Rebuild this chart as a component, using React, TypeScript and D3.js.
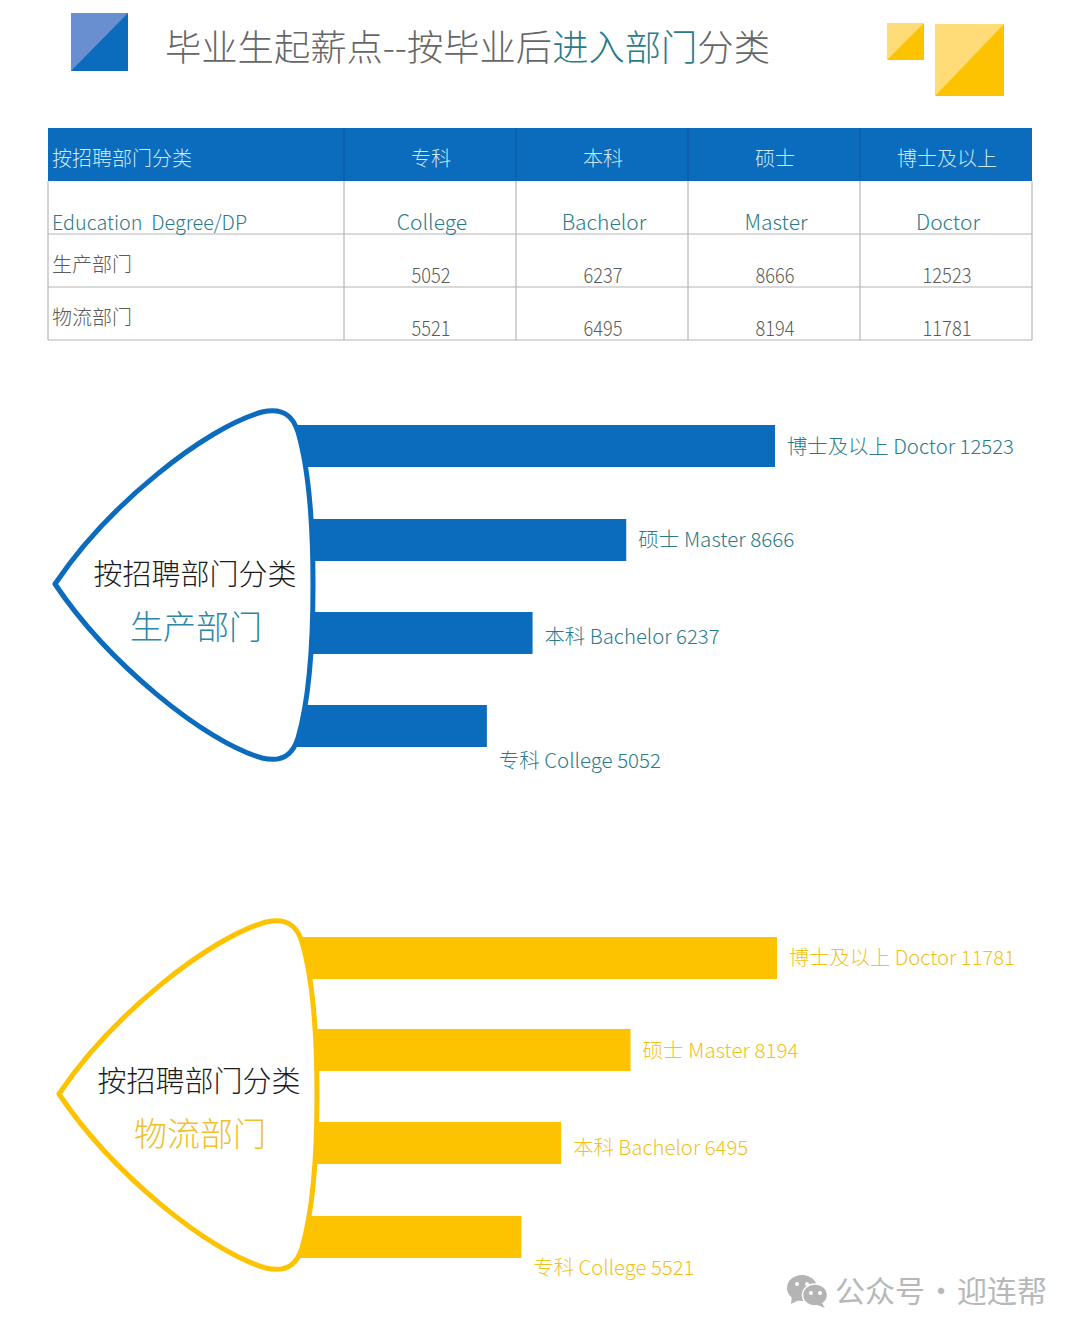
import React from "react";
import * as d3 from "d3";

const degreesCn = ["专科", "本科", "硕士", "博士及以上"];
const degreesEn = ["College", "Bachelor", "Master", "Doctor"];
const production = [5052, 6237, 8666, 12523];
const logistics = [5521, 6495, 8194, 11781];
const rowLabels = ["生产部门", "物流部门"];

const CJK = "'Noto Sans CJK SC','Noto Sans',sans-serif";
const BLUE = "#0b6bbd";
const YELLOW = "#fdc300";
const TEAL = "#2a7a8a";
const GREY = "#5a5a5a";

const colX = [48, 344, 516, 688, 860, 1032];
const rowY = d3.scaleLinear().domain([0, 4]).range([128, 340]);

function T({ x, y, s, fill, size = 20, anchor = "start", w, weight = 300 }: any) {
  return (
    <text x={x} y={y} fill={fill} fontSize={size} fontFamily={CJK} fontWeight={weight} textAnchor={anchor} xmlSpace="preserve"
      {...(w ? { textLength: w, lengthAdjust: "spacingAndGlyphs" } : {})}>{s}</text>
  );
}

function Square({ x, y, w, h, light, dark }: any) {
  return (
    <g>
      <rect x={x} y={y} width={w} height={h} fill={light} />
      <path d={d3.line()([[x + w, y], [x + w, y + h], [x, y + h]]) + "Z"} fill={dark} />
    </g>
  );
}

function Table() {
  const mid = (i: number) => (colX[i + 1] + colX[i + 2]) / 2;
  return (
    <g>
      <rect x={48} y={rowY(0)} width={984} height={rowY(1) - rowY(0)} fill={BLUE} />
      {colX.slice(1, 5).map((x) => <line key={x} x1={x} x2={x} y1={rowY(0)} y2={rowY(1)} stroke="#0a5aa3" />)}
      {colX.map((x) => <line key={x} x1={x} x2={x} y1={rowY(1)} y2={rowY(4)} stroke="#a8a8a8" />)}
      {[2, 3, 4].map((r) => <line key={r} x1={48} x2={1032} y1={rowY(r)} y2={rowY(r)} stroke="#b4b4b4" />)}
      <T x={52} y={166} s="按招聘部门分类" fill="#cdeaf7" />
      <T x={52} y={230} s="Education  Degree/DP" fill={TEAL} w={195} />
      {rowLabels.map((s, i) => <T key={s} x={52} y={272 + i * 53} s={s} fill={GREY} />)}
      {degreesCn.map((s, i) => <T key={s} x={mid(i) + 1} y={166} s={s} fill="#cdeaf7" anchor="middle" />)}
      {degreesEn.map((s, i) => <T key={s} x={mid(i) + 2} y={230} s={s} fill={TEAL} anchor="middle" size={21} />)}
      {production.map((v, i) => <T key={v} x={mid(i) + 1} y={283} s={String(v)} fill={GREY} anchor="middle" size={21} w={v > 9999 ? 49 : 39} />)}
      {logistics.map((v, i) => <T key={v} x={mid(i) + 1} y={336} s={String(v)} fill={GREY} anchor="middle" size={21} w={v > 9999 ? 49 : 39} />)}
    </g>
  );
}

function Section({ values, x0, x1, dy, dx, textDy, color, nameColor, labelColor, name, yTweaks }: any) {
  const scale = d3.scaleLinear().domain([0, d3.max(values as number[])!]).range([x0, x1]);
  const tops = yTweaks.tops;
  const order = [3, 2, 1, 0];
  const shape = d3.path();
  const tx = dx, ty = dy;
  shape.moveTo(55 + tx, 584 + ty);
  shape.bezierCurveTo(108 + tx, 505 + ty, 205 + tx, 428 + ty, 262 + tx, 412 + ty);
  shape.bezierCurveTo(283 + tx, 407 + ty, 293 + tx, 416 + ty, 298 + tx, 432 + ty);
  shape.bezierCurveTo(309 + tx, 470 + ty, 313 + tx, 530 + ty, 313 + tx, 585 + ty);
  shape.bezierCurveTo(313 + tx, 640 + ty, 309 + tx, 700 + ty, 298 + tx, 738 + ty);
  shape.bezierCurveTo(293 + tx, 754 + ty, 283 + tx, 763 + ty, 262 + tx, 758 + ty);
  shape.bezierCurveTo(205 + tx, 742 + ty, 108 + tx, 663 + ty, 55 + tx, 584 + ty);
  shape.closePath();
  return (
    <g>
      {order.map((idx: number, i: number) => (
        <rect key={idx} x={x0} y={tops[i]} width={scale(values[idx]) - x0} height={42} fill={color} />
      ))}
      <path d={shape.toString()} fill="#fff" stroke={color} strokeWidth={5} strokeLinejoin="round" />
      <T x={195 + dx} y={585 + textDy} s="按招聘部门分类" fill="#1c1c1c" size={29} anchor="middle" />
      <T x={196 + dx} y={639 + textDy} s={name} fill={nameColor} size={33} anchor="middle" />
      {order.map((idx: number, i: number) => (
        <T key={idx} x={scale(values[idx]) + 12} y={yTweaks.labels[i]} fill={labelColor} size={20}
          s={`${degreesCn[idx]} ${degreesEn[idx]} ${values[idx]}`} w={yTweaks.widths[i]} />
      ))}
    </g>
  );
}

function Watermark() {
  const textStyle = { fontSize: 30, fontFamily: CJK, fontWeight: 400, fill: "#b8b8b8" };
  return (
    <g fill="#b4b4b4">
      <ellipse cx={802} cy={1288} rx={15} ry={13} />
      <path d={d3.line()([[792, 1296], [791, 1304], [801, 1299]])!} />
      <ellipse cx={815} cy={1295} rx={12.5} ry={11} stroke="#fff" strokeWidth={1.5} />
      <path d={d3.line()([[822, 1303], [825, 1308], [815, 1304]])!} />
      {[[797, 1284], [807, 1284], [811, 1293], [820, 1293]].map(([x, y]) => <circle key={x} cx={x} cy={y} r={2} fill="#fff" />)}
      <text x={835} y={1302} {...textStyle}>公众号</text>
      <text x={941} y={1302} textAnchor="middle" {...textStyle}>·</text>
      <text x={957} y={1302} {...textStyle}>迎连帮</text>
    </g>
  );
}

export default function App() {
  return (
    <svg width={1080} height={1334} style={{ position: "absolute", left: 0, top: 0, background: "#fff" }}>
      <Square x={71} y={13} w={57} h={58} light="#6a8fd0" dark={BLUE} />
      <Square x={887} y={23} w={37} h={37} light="#ffdc78" dark={YELLOW} />
      <Square x={935} y={24} w={69} h={72} light="#ffdc78" dark={YELLOW} />
      <text x={165} y={61} fontSize={36.3} fontFamily={CJK} fontWeight={300} fill="#666">
        毕业生起薪点--按毕业后<tspan fill={TEAL}>进入部门</tspan>分类
      </text>
      <Table />
      <Section values={production} x0={292} x1={775} dx={0} dy={0} textDy={0} color={BLUE} nameColor="#2c87a5" labelColor={TEAL}
        name={rowLabels[0]} yTweaks={{ tops: [425, 519, 612, 705], labels: [454, 547, 644, 768], widths: [227, 156, 175, 162] }} />
      <Section values={logistics} x0={296} x1={777} dx={4} dy={510} textDy={507} color={YELLOW} nameColor="#f0c030" labelColor="#f2c21a"
        name={rowLabels[1]} yTweaks={{ tops: [937, 1029, 1122, 1216], labels: [965, 1058, 1155, 1275], widths: [226, 156, 175, 161] }} />
      <Watermark />
    </svg>
  );
}
